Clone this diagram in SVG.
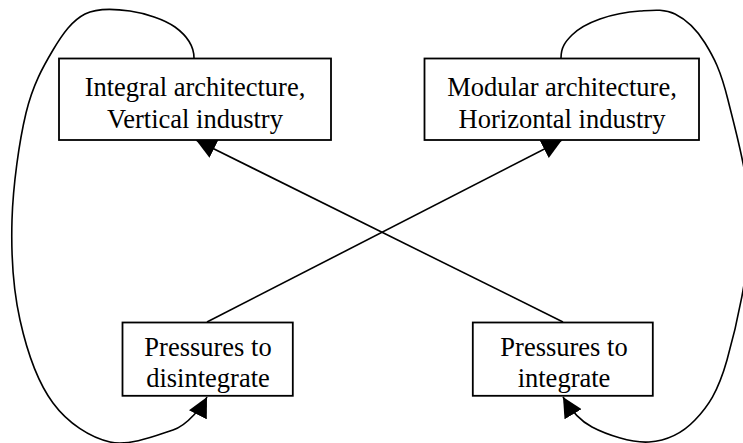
<svg xmlns="http://www.w3.org/2000/svg" width="743" height="443" viewBox="0 0 743 443">
<style>
.box{fill:#fff;stroke:#000;stroke-width:1.8}
.lbl{font-family:"Liberation Serif","Times New Roman",serif;font-size:26.5px;fill:#000;text-anchor:middle}
.edge{fill:none;stroke:#000;stroke-width:1.6;marker-end:url(#ah)}
</style>
<defs>
<marker id="ah" markerUnits="userSpaceOnUse" viewBox="0 0 20 20" refX="20" refY="10" markerWidth="20" markerHeight="20" orient="auto">
<path d="M0,0 L20,10 L0,20 z" fill="#000"/>
</marker>
</defs>
<rect width="743" height="443" fill="#fff"/>
<g id="connectors">
<path class="edge" d="M563,322 L196,140"/>
<path class="edge" d="M207,322 L562,140"/>
<path class="edge" d="M194,58 C194,46 185.7,34.8 175,27 C164.3,19.2 145,13.2 130,11 C115,8.8 97.8,7.5 85,14 C72.2,20.5 62.8,33.5 53,50 C43.2,66.5 32.8,84.7 26,113 C19.2,141.3 13,185.5 12,220 C11,254.5 13.2,289.5 20,320 C26.8,350.5 38,382.7 53,403 C68,423.3 90,437.5 110,442 C130,446.5 158.3,434.7 173,430 C187.7,425.3 202.5,405.8 207,397"/>
<path class="edge" d="M561,58 C561,47 565.5,41.5 572,35 C578.5,28.5 588.7,23 600,19 C611.3,15 627.5,11.8 640,11 C652.5,10.2 664.2,8.7 675,14 C685.8,19.3 696.2,28.7 705,43 C713.8,57.3 720.5,69.7 728,100 C735.5,130.3 750.2,181.7 750,225 C749.8,268.3 736.2,327.5 727,360 C717.8,392.5 708,406.3 695,420 C682,433.7 666.2,440.8 649,442 C631.8,443.2 606.3,434.5 592,427 C577.7,419.5 568,405.5 563,397"/>
</g>
<g id="integral">
<rect class="box" x="59" y="58.5" width="272" height="81.5"/>
<text class="lbl" x="195" y="95.5">Integral architecture,</text>
<text class="lbl" x="195" y="128">Vertical industry</text>
</g>
<g id="modular">
<rect class="box" x="424.5" y="58.5" width="274.5" height="81.5"/>
<text class="lbl" x="562" y="95.5">Modular architecture,</text>
<text class="lbl" x="562" y="128">Horizontal industry</text>
</g>
<g id="disintegrate">
<rect class="box" x="122.5" y="322.5" width="170.3" height="73.3"/>
<text class="lbl" x="208" y="355.5">Pressures to</text>
<text class="lbl" x="208" y="387">disintegrate</text>
</g>
<g id="integrate">
<rect class="box" x="472.8" y="322.5" width="180" height="73.3"/>
<text class="lbl" x="564" y="355.5">Pressures to</text>
<text class="lbl" x="564" y="387">integrate</text>
</g>
</svg>
